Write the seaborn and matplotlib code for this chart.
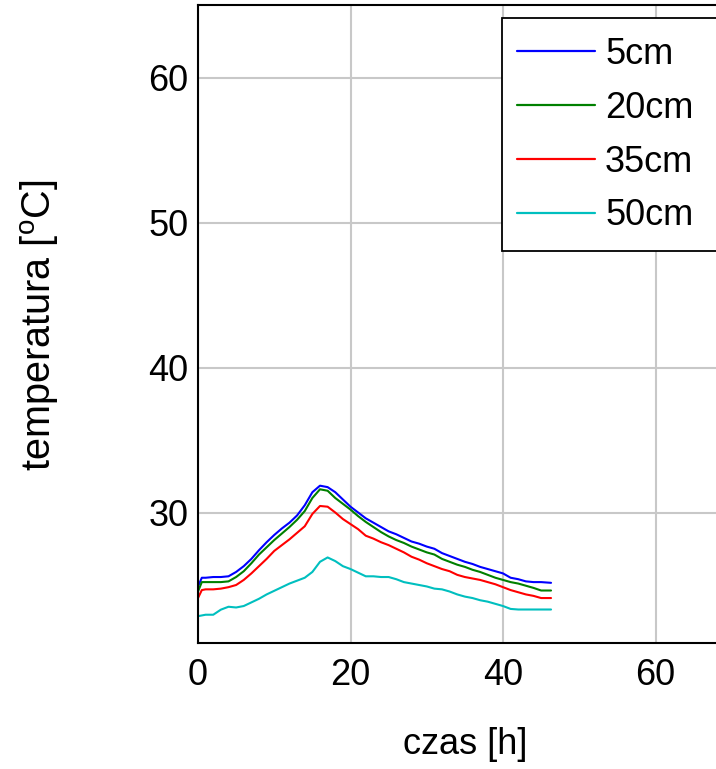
import numpy as np
import pandas as pd
import seaborn as sns
import matplotlib
matplotlib.use("Agg")
import matplotlib.pyplot as plt
from matplotlib.patches import Rectangle

time_h = [0, 0.5, 1, 2, 3, 4, 5, 6, 7, 8, 9, 10, 11, 12, 13, 14, 15, 16, 17, 18, 19,
          20, 21, 22, 23, 24, 25, 26, 27, 28, 29, 30, 31, 32, 33, 34, 35, 36, 37, 38,
          39, 40, 41, 42, 43, 44, 45, 46.3]

t_5cm = [24.9, 25.5, 25.5, 25.55, 25.55, 25.6, 25.9, 26.3, 26.8, 27.4, 27.95, 28.45,
         28.9, 29.3, 29.8, 30.5, 31.4, 31.85, 31.75, 31.4, 30.9, 30.4, 30.0, 29.6, 29.3,
         29.0, 28.7, 28.5, 28.25, 28.0, 27.85, 27.65, 27.5, 27.2, 27.0, 26.8, 26.6, 26.45,
         26.25, 26.1, 25.95, 25.8, 25.5, 25.4, 25.25, 25.2, 25.2, 25.15]
t_20cm = [24.55, 25.2, 25.2, 25.2, 25.2, 25.25, 25.55, 25.95, 26.5, 27.1, 27.6, 28.1,
          28.55, 29.0, 29.5, 30.1, 31.0, 31.6, 31.5, 31.0, 30.6, 30.2, 29.75, 29.35, 29.0,
          28.65, 28.35, 28.1, 27.9, 27.65, 27.45, 27.25, 27.1, 26.8, 26.6, 26.4, 26.25,
          26.05, 25.9, 25.7, 25.5, 25.35, 25.2, 25.1, 24.95, 24.8, 24.62, 24.62]
t_35cm = [24.1, 24.65, 24.7, 24.7, 24.75, 24.85, 25.0, 25.35, 25.8, 26.3, 26.8, 27.35,
          27.75, 28.15, 28.6, 29.05, 29.9, 30.45, 30.4, 30.0, 29.55, 29.2, 28.85, 28.4,
          28.2, 27.95, 27.75, 27.5, 27.25, 26.95, 26.75, 26.5, 26.3, 26.1, 25.95, 25.7,
          25.55, 25.45, 25.35, 25.2, 25.05, 24.85, 24.65, 24.5, 24.35, 24.25, 24.1, 24.1]
t_50cm = [22.85, 22.9, 22.95, 22.95, 23.3, 23.5, 23.45, 23.55, 23.8, 24.05, 24.35, 24.6,
          24.85, 25.1, 25.3, 25.5, 25.9, 26.6, 26.9, 26.65, 26.3, 26.1, 25.85, 25.6, 25.6,
          25.55, 25.55, 25.4, 25.2, 25.1, 25.0, 24.9, 24.75, 24.7, 24.55, 24.35, 24.2,
          24.1, 23.95, 23.85, 23.7, 23.55, 23.35, 23.31, 23.31, 23.31, 23.31, 23.31]

series_labels = ["5cm", "20cm", "35cm", "50cm"]
series_colors = ["#0000ff", "#008000", "#ff0000", "#00bfbf"]
x_ticks = [0, 20, 40, 60]
y_ticks = [30, 40, 50, 60]

frames = []
for lab, vals in zip(series_labels, [t_5cm, t_20cm, t_35cm, t_50cm]):
    frames.append(pd.DataFrame({"czas": time_h, "temp": vals, "glebokosc": lab}))
df = pd.concat(frames, ignore_index=True)

sns.set_theme(style="white")
plt.rcParams["font.family"] = ["Liberation Sans", "DejaVu Sans"]
plt.rcParams["mathtext.fontset"] = "custom"
plt.rcParams["mathtext.rm"] = "Liberation Sans"
plt.rcParams["mathtext.it"] = "Liberation Sans"
plt.rcParams["text.color"] = "black"
plt.rcParams["axes.labelcolor"] = "black"

FS = 26
W, H = 716, 769

fig = plt.figure(figsize=(7.16, 7.69), dpi=100)
ax_w = 731.75 - 198
ax_h = 643 - 5
ax = fig.add_axes([198 / W, 1 - 643 / H, ax_w / W, ax_h / H])

sns.lineplot(data=df, x="czas", y="temp", hue="glebokosc", palette=series_colors,
             hue_order=series_labels, linewidth=1.5, ax=ax, estimator=None, sort=False)

ax.set_xlim(0, 70)
ax.set_ylim(21, 65)
ax.set_xticks(x_ticks)
ax.set_yticks(y_ticks)
ax.grid(True, color="#c8c8c8", linewidth=1.5)
ax.set_axisbelow(True)
ax.tick_params(axis="both", direction="in", length=14, width=1.2, color="#909090",
               labelsize=FS, labelcolor="black")
ax.tick_params(axis="x", pad=11)
ax.tick_params(axis="y", pad=7)
for s in ax.spines.values():
    s.set_color("black")
    s.set_linewidth(1.5)

ax.set_xlabel("czas [h]", fontsize=FS, color="black")
ax.set_ylabel("temperatura [$^{\\mathrm{o}}$C]", fontsize=28.5, color="black")
ax.xaxis.set_label_coords(0.5, (643 - 727) / ax_h)
ax.yaxis.set_label_coords((61 - 198) / ax_w, (643 - 325) / ax_h)

# legend frame (extends past the right edge, as in the reference)
frame = Rectangle((502 / W, 1 - 251 / H), (760 - 502) / W, (251 - 18) / H,
                  transform=fig.transFigure, facecolor="white", edgecolor="black",
                  linewidth=1.3, zorder=8, clip_on=False)
ax.add_patch(frame)

leg = ax.legend(loc="upper left", bbox_to_anchor=(517 / W, 1 - 37 / H),
                bbox_transform=fig.transFigure,
                borderaxespad=0, fontsize=FS, frameon=False,
                handlelength=2.16, handletextpad=0.28, labelspacing=0.52,
                borderpad=0, title=None)
leg.set_zorder(9)
for h in leg.get_lines():
    h.set_linewidth(1.6)

fig.savefig("out.png", dpi=100)
